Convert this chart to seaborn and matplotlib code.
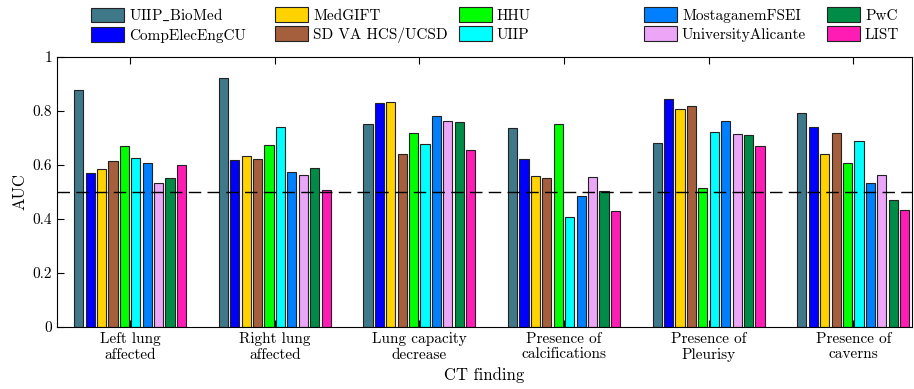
import numpy as np
import pandas as pd
import matplotlib
matplotlib.use('Agg')
import matplotlib.pyplot as plt
import seaborn as sns

findings = ['Left lung\naffected', 'Right lung\naffected', 'Lung capacity\ndecrease',
            'Presence of\ncalcifications', 'Presence of\nPleurisy', 'Presence of\ncaverns']
teams = ['UIIP_BioMed', 'CompElecEngCU', 'MedGIFT', 'SD VA HCS/UCSD', 'HHU',
         'UIIP', 'MostaganemFSEI', 'UniversityAlicante', 'PwC', 'LIST']
colors = ['#3F7889', '#0000FF', '#FFD200', '#A65F3D', '#00FF00',
          '#00FFFF', '#0080FF', '#EBA6F7', '#008C46', '#FF1CB5']

# AUC per team, one value per CT finding
uiip_biomed = [0.877, 0.922, 0.752, 0.737, 0.683, 0.793]
compelec = [0.570, 0.620, 0.830, 0.621, 0.845, 0.741]
medgift = [0.587, 0.632, 0.833, 0.559, 0.806, 0.642]
sdva = [0.614, 0.622, 0.640, 0.552, 0.817, 0.719]
hhu = [0.670, 0.673, 0.720, 0.753, 0.514, 0.607]
uiip = [0.627, 0.741, 0.676, 0.407, 0.721, 0.690]
mostag = [0.607, 0.574, 0.783, 0.485, 0.763, 0.535]
univali = [0.533, 0.564, 0.764, 0.557, 0.714, 0.563]
pwc = [0.553, 0.589, 0.758, 0.505, 0.711, 0.469]
list_ = [0.600, 0.506, 0.657, 0.429, 0.672, 0.432]

values = [uiip_biomed, compelec, medgift, sdva, hhu, uiip, mostag, univali, pwc, list_]
rows = []
for team, vals in zip(teams, values):
    for f, v in zip(findings, vals):
        rows.append({'finding': f, 'team': team, 'AUC': v})
df = pd.DataFrame(rows)

plt.rcParams['font.family'] = ['cmr10', 'DejaVu Serif']
plt.rcParams['mathtext.fontset'] = 'cm'
plt.rcParams['axes.formatter.use_mathtext'] = True

fig = plt.figure(figsize=(9.14, 3.89), dpi=100)
ax = fig.add_axes([0.0624, 0.1594, 0.9354, 0.6941])

sns.barplot(data=df, x='finding', y='AUC', hue='team', order=findings,
            hue_order=teams, palette=colors, saturation=1, width=0.79, gap=0.2,
            edgecolor='#222222', linewidth=0.8, ax=ax, legend=True)

ax.axhline(0.5, color='black', linestyle=(0, (9, 4.5)), linewidth=1.0, zorder=5)
ax.set_ylim(0, 1)
ax.set_xlim(-0.505, 5.406)
ax.set_yticks([0, 0.2, 0.4, 0.6, 0.8, 1])
ax.set_yticklabels(['0', '0.2', '0.4', '0.6', '0.8', '1'])
ax.tick_params(direction='in', top=True, right=False, labelsize=11, length=5)
ax.set_xlabel('CT finding', fontsize=12)
ax.set_ylabel('AUC', fontsize=12)
for s in ax.spines.values():
    s.set_linewidth(0.8)

handles, labels = ax.get_legend_handles_labels()
labels = [l.replace('_', r'$\_$') for l in labels]
ax.get_legend().remove()

# legend in five evenly spaced columns above the axes
col_x = [91, 275, 459, 644, 827]
for i, x0 in enumerate(col_x):
    leg = fig.legend(handles[2 * i:2 * i + 2], labels[2 * i:2 * i + 2],
                     loc='upper left', bbox_to_anchor=(x0 / 914, 1 - 7 / 389),
                     frameon=False, fontsize=11, handlelength=2.16, handleheight=1.1,
                     handletextpad=0.33, labelspacing=0.25, borderpad=0, borderaxespad=0)

fig.savefig('out.png', dpi=100)
